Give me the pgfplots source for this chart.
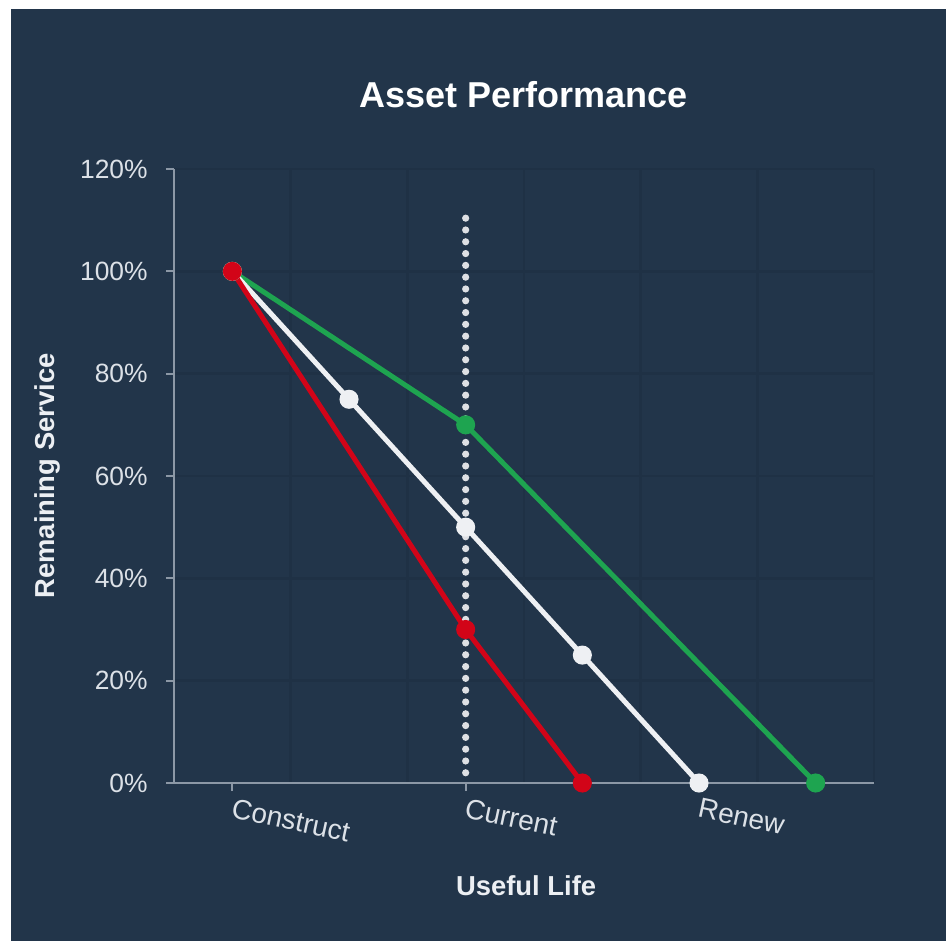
\documentclass[border=0pt]{standalone}
\usepackage{pgfplots}
\pgfplotsset{compat=1.18}
\usepackage{fontspec}
\setmainfont{Liberation Sans}

\definecolor{bgnavy}{RGB}{34,53,74}
\definecolor{gridnavy}{RGB}{31,49,69}
\definecolor{axisgray}{RGB}{140,152,166}
\definecolor{ticktext}{RGB}{220,225,231}
\definecolor{labeltext}{RGB}{236,239,243}
\definecolor{lossred}{RGB}{210,4,24}
\definecolor{goodgreen}{RGB}{30,164,80}
\definecolor{midwhite}{RGB}{238,240,243}

\begin{document}
\begin{tikzpicture}
% page background with the navy panel
\fill[white] (0,0) rectangle (473pt,-470.5pt);
\fill[bgnavy] (5.5pt,-4.5pt) rectangle (473pt,-470.5pt);
\begin{axis}[
  at={(87pt,-391.5pt)}, anchor=south west,
  width=350pt, height=307pt, scale only axis,
  clip=false,
  xmin=-0.25, xmax=2.75, ymin=0, ymax=120,
  axis x line=bottom, axis y line=left,
  axis line style={axisgray, line width=1pt, -},
  xtick={0,1,2}, xticklabels={Construct,Current,Renew},
  ytick={0,20,...,120},
  yticklabels={0\%,20\%,40\%,60\%,80\%,100\%,120\%},
  minor xtick={0.25,0.75,...,2.75},
  minor tick length=0pt,
  major tick length=4pt, tick align=outside,
  tick style={axisgray, line width=1pt},
  ymajorgrids, xminorgrids,
  major grid style={gridnavy, line width=1.2pt},
  minor grid style={gridnavy, line width=1.2pt},
  yticklabel style={font=\fontsize{13.2}{15}\selectfont, text=ticktext, anchor=east, inner sep=0pt, xshift=-9pt},
  xticklabel style={font=\fontsize{14}{16}\selectfont, text=ticktext, rotate=-12, anchor=north west, inner sep=0pt, xshift=1.5pt, yshift=-3pt},
  title={Asset Performance},
  title style={at={(0.5,1.101)}, anchor=center, font=\bfseries\fontsize{18}{20}\selectfont, text=white},
  xlabel={Useful Life},
  xlabel style={at={(0.503,-0.168)}, anchor=center, font=\bfseries\fontsize{13.7}{15}\selectfont, text=labeltext},
  ylabel={Remaining Service},
  ylabel style={at={(-0.181,0.5)}, anchor=center, rotate=0, font=\bfseries\fontsize{13.7}{15}\selectfont, text=labeltext},
]
% slower decline
\addplot[goodgreen, line width=2.5pt, mark=*, mark size=3.5pt, mark options={solid, fill=goodgreen, draw=goodgreen}]
  coordinates {(0,100) (1,70) (2.5,0)};
% expected decline
\addplot[midwhite, line width=2.5pt, mark=*, mark size=3.5pt, mark options={solid, fill=midwhite, draw=midwhite}]
  coordinates {(0,100) (0.5,75) (1,50) (1.5,25) (2,0)};
% faster decline
\addplot[lossred, line width=2.5pt, mark=*, mark size=3.5pt, mark options={solid, fill=lossred, draw=lossred}]
  coordinates {(0,100) (1,30) (1.5,0)};
% present-day marker
\addplot[white, line width=3.6pt, line cap=round, dash pattern=on 0pt off 5.9pt, opacity=0.85]
  coordinates {(1,2) (1,112)};
\end{axis}
\pgfresetboundingbox
\useasboundingbox (0,0) rectangle (473pt,-470.5pt);
\end{tikzpicture}
\end{document}
